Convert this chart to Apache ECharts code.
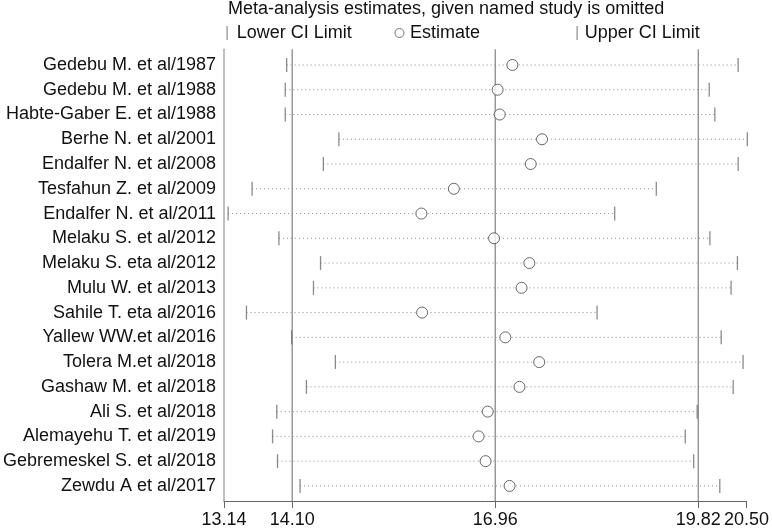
<!DOCTYPE html>
<html>
<head>
<meta charset="utf-8">
<title>Meta-analysis estimates</title>
<script src="https://cdn.jsdelivr.net/npm/echarts@6/dist/echarts.min.js"></script>
<style>
  html, body { margin: 0; padding: 0; background: #fff; }
  #chart { width: 772px; height: 529px; }
</style>
</head>
<body>
<div id="chart"></div>
<script>
// studies, top to bottom
var studies = [
  'Gedebu M. et al/1987', 'Gedebu M. et al/1988', 'Habte-Gaber E. et al/1988',
  'Berhe N. et al/2001', 'Endalfer N. et al/2008', 'Tesfahun Z. et al/2009',
  'Endalfer N. et al/2011', 'Melaku S. et al/2012', 'Melaku S. eta al/2012',
  'Mulu W. et al/2013', 'Sahile T. eta al/2016', 'Yallew WW.et al/2016',
  'Tolera M.et al/2018', 'Gashaw M. et al/2018', 'Ali S. et al/2018',
  'Alemayehu T. et al/2019', 'Gebremeskel S. et al/2018', 'Zewdu A et al/2017'
];
var lowerCI = [13.97, 13.95, 13.95, 14.71, 14.49, 13.48, 13.14, 13.86, 14.45,
  14.35, 13.40, 14.04, 14.66, 14.25, 13.83, 13.77, 13.84, 14.16];
var estimate = [17.17, 16.96, 16.99, 17.59, 17.43, 16.34, 15.88, 16.91, 17.41,
  17.30, 15.89, 17.07, 17.55, 17.27, 16.82, 16.69, 16.79, 17.13];
var upperCI = [20.37, 19.96, 20.04, 20.50, 20.37, 19.21, 18.62, 19.97, 20.36,
  20.27, 18.37, 20.13, 20.44, 20.30, 19.79, 19.62, 19.74, 20.11];
// overall lower CI, estimate, upper CI
var refLines = [14.10, 16.96, 19.82];
var tickValues = [13.14, 14.10, 16.96, 19.82, 20.50];

var FONT = '"Liberation Sans", Arial, sans-serif';
var xMin = 13.14, xMax = 20.50;

var chart = echarts.init(document.getElementById('chart'), null, { renderer: 'canvas' });

var option = {
  backgroundColor: '#fff',
  animation: false,
  textStyle: { fontFamily: FONT },
  title: {
    text: 'Meta-analysis estimates, given named study is omitted',
    left: 228, top: 0, padding: 0,
    textStyle: { fontFamily: FONT, fontSize: 18, fontWeight: 'normal', color: '#111' }
  },
  legend: [
    {
      data: ['Lower CI Limit'], left: 226.5, top: 24, padding: 0,
      icon: 'rect', itemWidth: 1.2, itemHeight: 14,
      textStyle: { fontFamily: FONT, fontSize: 18, color: '#111', padding: [0, 0, 0, 4] }
    },
    {
      data: ['Estimate'], left: 394.5, top: 24, padding: 0,
      icon: 'circle', itemWidth: 9, itemHeight: 9,
      itemStyle: { color: '#fff', borderColor: '#555', borderWidth: 1 },
      textStyle: { fontFamily: FONT, fontSize: 18, color: '#111', padding: [0, 0, 0, 1] }
    },
    {
      data: ['Upper CI Limit'], left: 576.5, top: 24, padding: 0,
      icon: 'rect', itemWidth: 1.2, itemHeight: 14,
      textStyle: { fontFamily: FONT, fontSize: 18, color: '#111', padding: [0, 0, 0, 2] }
    }
  ],
  grid: [
    { left: 224, right: 24.7, top: 49.3, bottom: 27.3 },
    { left: 224, right: 24.7, top: 52.6, bottom: 30.7 }
  ],
  xAxis: [
    {
      type: 'value', gridIndex: 0, min: xMin, max: xMax,
      splitLine: { show: false },
      axisLine: { show: true, lineStyle: { color: '#666', width: 1 } },
      axisTick: { show: true, customValues: tickValues, length: 7, lineStyle: { color: '#666' } },
      axisLabel: {
        customValues: tickValues, margin: 10,
        fontFamily: FONT, fontSize: 18, color: '#111',
        formatter: function (v) { return v.toFixed(2); }
      }
    },
    { type: 'value', gridIndex: 1, min: xMin, max: xMax, show: false }
  ],
  yAxis: [
    {
      type: 'value', gridIndex: 0, min: 0, max: 1,
      axisLine: { show: true, lineStyle: { color: '#aaa', width: 1.5 } },
      axisTick: { show: false }, axisLabel: { show: false }, splitLine: { show: false }
    },
    {
      type: 'category', gridIndex: 1, data: studies, inverse: true,
      axisLine: { show: false }, axisTick: { show: false }, splitLine: { show: false },
      axisLabel: { margin: 12, fontFamily: FONT, fontSize: 18, color: '#111' }
    }
  ],
  series: [
    {
      // vertical reference lines
      type: 'custom', xAxisIndex: 0, yAxisIndex: 0, silent: true,
      data: refLines.map(function (v) { return [v, 0]; }),
      encode: { x: 0, y: 1 },
      renderItem: function (params, api) {
        var p1 = api.coord([api.value(0), 0]);
        var p2 = api.coord([api.value(0), 1]);
        return {
          type: 'line',
          shape: { x1: p1[0], y1: p1[1], x2: p2[0], y2: p2[1] },
          style: { stroke: '#666', lineWidth: 1 }
        };
      }
    },
    {
      // dotted CI lines
      type: 'custom', xAxisIndex: 1, yAxisIndex: 1, silent: true,
      data: studies.map(function (s, i) { return [lowerCI[i], i, upperCI[i]]; }),
      encode: { x: [0, 2], y: 1 },
      renderItem: function (params, api) {
        var p1 = api.coord([api.value(0), api.value(1)]);
        var p2 = api.coord([api.value(2), api.value(1)]);
        return {
          type: 'line',
          shape: { x1: p1[0], y1: p1[1], x2: p2[0], y2: p2[1] },
          style: { stroke: '#8c8c8c', lineWidth: 1, lineDash: [1, 3] }
        };
      }
    },
    {
      name: 'Lower CI Limit', type: 'scatter', xAxisIndex: 1, yAxisIndex: 1,
      symbol: 'rect', symbolSize: [1.3, 14],
      itemStyle: { color: '#6e6e6e' },
      data: studies.map(function (s, i) { return [lowerCI[i], i]; })
    },
    {
      name: 'Upper CI Limit', type: 'scatter', xAxisIndex: 1, yAxisIndex: 1,
      symbol: 'rect', symbolSize: [1.3, 14],
      itemStyle: { color: '#6e6e6e' },
      data: studies.map(function (s, i) { return [upperCI[i], i]; })
    },
    {
      name: 'Estimate', type: 'scatter', xAxisIndex: 1, yAxisIndex: 1,
      symbol: 'circle', symbolSize: 11,
      itemStyle: { color: '#fff', borderColor: '#444', borderWidth: 1 },
      data: studies.map(function (s, i) { return [estimate[i], i]; })
    }
  ]
};

chart.setOption(option);
</script>
</body>
</html>
